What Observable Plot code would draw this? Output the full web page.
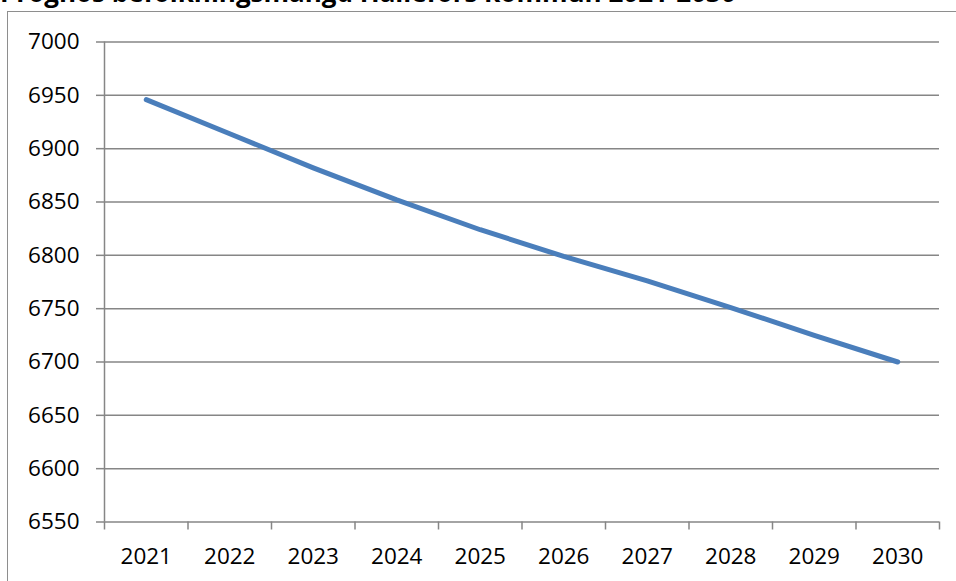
<!DOCTYPE html>
<html>
<head>
<meta charset="utf-8">
<script src="https://cdn.jsdelivr.net/npm/d3@7"></script>
<script src="https://cdn.jsdelivr.net/npm/@observablehq/plot@0.6"></script>
<style>
  html, body { margin: 0; padding: 0; background: #fff; overflow: hidden; }
  body { width: 956px; height: 581px; position: relative; font-family: "Open Sans", sans-serif; }
  #title { position: absolute; left: 0; top: -24px; font-weight: bold; font-size: 26px; color: #000; white-space: nowrap; line-height: 32px; }
  #frame { position: absolute; left: 7px; top: 11px; width: 1200px; height: 1200px; border: 1.5px solid #8e8e8e; box-sizing: border-box; }
  #chart { position: absolute; left: 0; top: 0; }
</style>
</head>
<body>
<div id="title">Prognos befolkningsmängd Hällefors kommun 2021-2030</div>
<div id="frame"></div>
<div id="chart"></div>
<script>
const years = [2021, 2022, 2023, 2024, 2025, 2026, 2027, 2028, 2029, 2030];
const population = [6946, 6914, 6882, 6852, 6824, 6799, 6776, 6751, 6725, 6700];
const yTicks = [6550, 6600, 6650, 6700, 6750, 6800, 6850, 6900, 6950, 7000];

const data = years.map((y, i) => ({year: y, value: population[i]}));
const boundaries = [years[0] - 0.5, ...years.map(y => y + 0.5)];
const gridColor = "#868686";

const chart = Plot.plot({
  width: 956,
  height: 581,
  marginLeft: 104,
  marginRight: 17,
  marginTop: 41.5,
  marginBottom: 59.5,
  style: {fontFamily: "'Open Sans', sans-serif", fontSize: "22.5px", color: "#000", background: "transparent"},
  x: {type: "linear", domain: [boundaries[0], boundaries[boundaries.length - 1]]},
  y: {domain: [6550, 7000]},
  marks: [
    Plot.gridY(yTicks, {stroke: gridColor, strokeOpacity: 1, strokeWidth: 1.5}),
    Plot.ruleX([boundaries[0]], {y1: 6550, y2: 7000, stroke: gridColor, strokeWidth: 1.5}),
    Plot.axisY({ticks: yTicks, tickSize: 8, tickPadding: 17, stroke: gridColor, strokeWidth: 1.5, strokeOpacity: 1, fill: "#000", label: null, tickFormat: d => String(d)}),
    Plot.axisX({ticks: boundaries, tickSize: 8, stroke: gridColor, strokeWidth: 1.5, strokeOpacity: 1, text: null, label: null}),
    Plot.axisX({ticks: years, tickSize: 0, tickPadding: 26.5, fill: "#000", label: null, tickFormat: d => String(d)}),
    Plot.lineY(data, {x: "year", y: "value", stroke: "#4a7ebb", strokeWidth: 5, strokeLinecap: "round", strokeLinejoin: "round"})
  ]
});
document.getElementById("chart").appendChild(chart);
</script>
</body>
</html>
